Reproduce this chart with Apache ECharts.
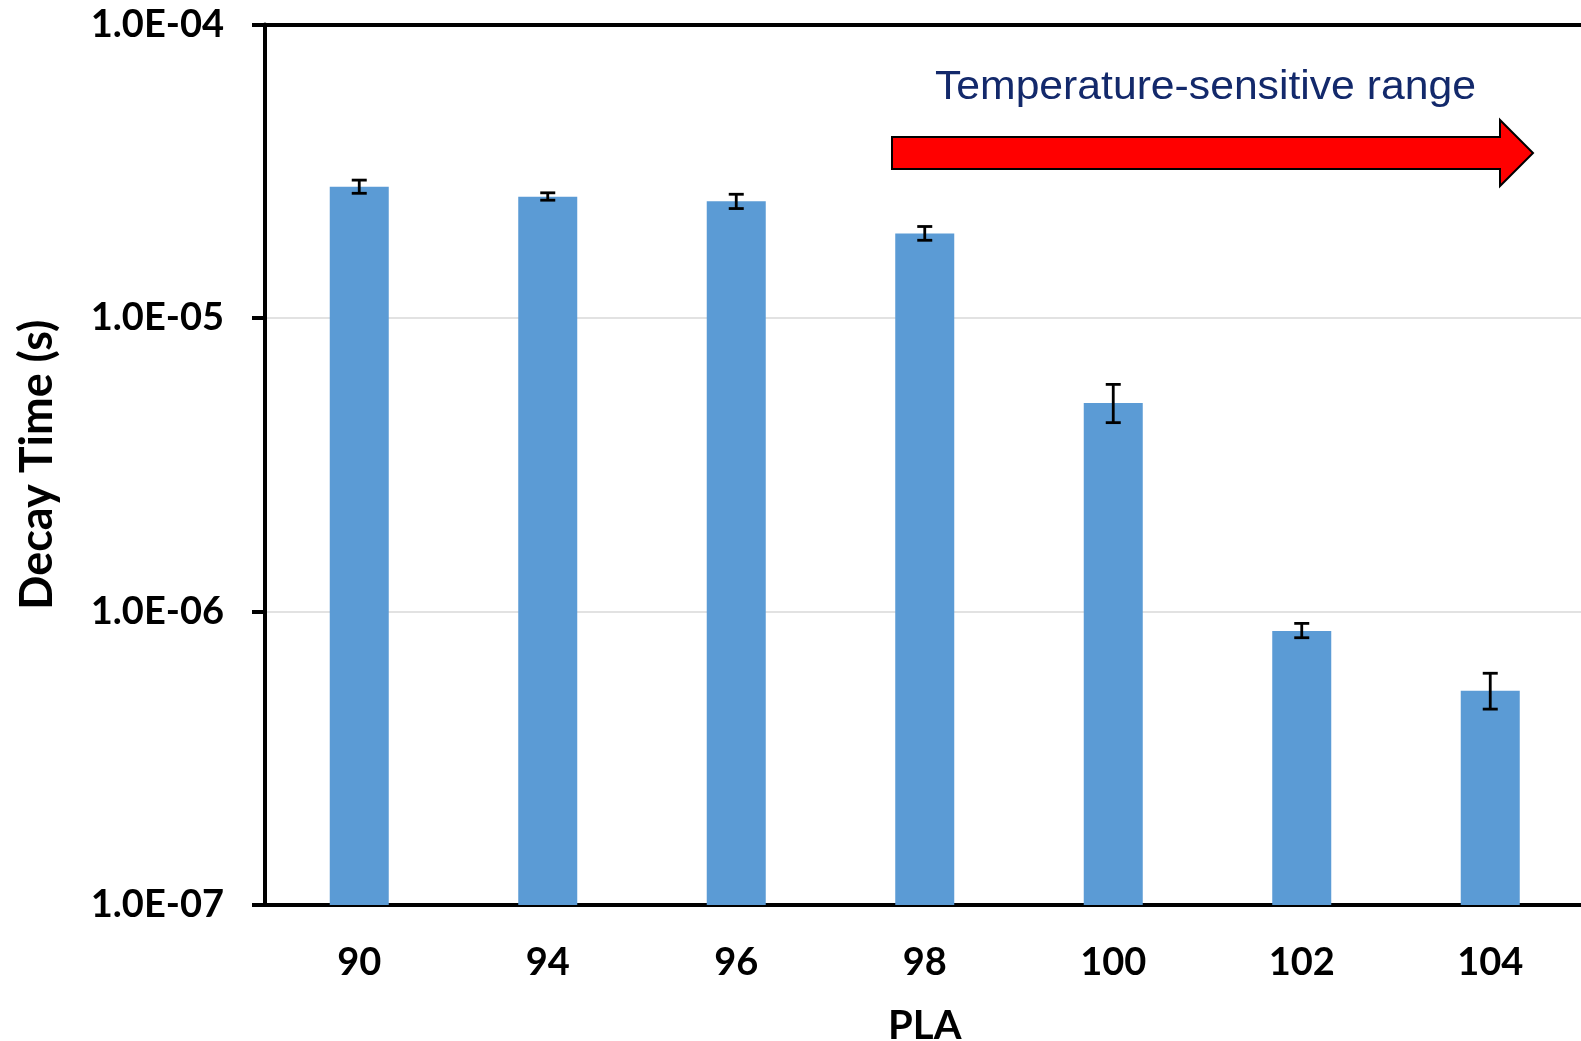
<!DOCTYPE html>
<html>
<head>
<meta charset="utf-8">
<script src="https://cdn.jsdelivr.net/npm/echarts@6/dist/echarts.min.js"></script>
<style>html,body{margin:0;padding:0;background:#fff;}#c{width:1581px;height:1041px;}</style>
</head>
<body>
<div id="c"></div>
<script>
const categories = ['90', '94', '96', '98', '100', '102', '104'];
const decayTime = [2.80e-5, 2.59e-5, 2.50e-5, 1.94e-5, 5.13e-6, 8.58e-7, 5.37e-7];
const errLow = [2.66e-5, 2.52e-5, 2.36e-5, 1.84e-5, 4.40e-6, 8.14e-7, 4.65e-7];
const errHigh = [2.95e-5, 2.67e-5, 2.64e-5, 2.05e-5, 5.94e-6, 9.11e-7, 6.16e-7];
const yTickLabels = {'-7': '1.0E-07', '-6': '1.0E-06', '-5': '1.0E-05', '-4': '1.0E-04'};
const yMin = 1e-7, yMax = 1e-4;
const annotationText = 'Temperature-sensitive range';

const chart = echarts.init(document.getElementById('c'), null, {renderer: 'canvas'});
const barData = decayTime.map((v, i) => [i, v]);
const errData = decayTime.map((v, i) => [i, errLow[i], errHigh[i]]);

const option = {
  animation: false,
  grid: {left: 265, top: 24.5, width: 1319.5, bottom: 136, containLabel: false, outerBoundsMode: 'none'},
  xAxis: [{
    type: 'category', data: categories, position: 'bottom',
    axisLine: {show: true, onZero: false, lineStyle: {color: '#000', width: 4}},
    axisTick: {show: false},
    axisLabel: {margin: 39, color: '#000', fontFamily: 'Lato', fontWeight: 'bold', fontSize: 38},
    name: 'PLA', nameLocation: 'middle', nameGap: 101,
    nameTextStyle: {color: '#000', fontFamily: 'Lato', fontWeight: 'bold', fontSize: 40}
  }, {
    type: 'category', data: categories, position: 'top',
    axisLine: {show: true, onZero: false, lineStyle: {color: '#000', width: 4}},
    axisTick: {show: false}, axisLabel: {show: false}
  }],
  yAxis: {
    type: 'log', logBase: 10, min: yMin, max: yMax,
    axisLine: {show: true, lineStyle: {color: '#000', width: 4}},
    axisTick: {show: true, inside: false, length: 13, lineStyle: {color: '#000', width: 4}},
    minorTick: {show: false},
    splitLine: {show: true, lineStyle: {color: '#d9d9d9', width: 1.5}},
    axisLabel: {
      margin: 41, color: '#000', fontFamily: 'Lato', fontWeight: 'bold', fontSize: 38,
      formatter: v => yTickLabels[String(Math.round(Math.log10(v)))] || ''
    },
    name: 'Decay Time (s)', nameLocation: 'middle', nameGap: 205,
    nameTextStyle: {color: '#000', fontFamily: 'Lato', fontWeight: 'bold', fontSize: 45}
  },
  series: [{
    type: 'custom', xAxisIndex: 0, data: barData, encode: {x: 0, y: 1},
    renderItem: (params, api) => {
      const i = api.value(0), v = api.value(1);
      const top = api.coord([i, v]);
      const base = api.coord([i, yMin]);
      const w = api.size([1, 1e-6])[0] * 0.313;
      return {type: 'rect', shape: {x: top[0] - w / 2, y: top[1], width: w, height: base[1] - top[1]},
        style: {fill: '#5B9BD5'}};
    }
  }, {
    type: 'custom', xAxisIndex: 0, data: errData, encode: {x: 0, y: [1, 2]}, z: 5,
    renderItem: (params, api) => {
      const i = api.value(0);
      const lo = api.coord([i, api.value(1)]);
      const hi = api.coord([i, api.value(2)]);
      const cw = 7.5;
      const st = {stroke: '#000', lineWidth: 2.8};
      return {type: 'group', children: [
        {type: 'line', shape: {x1: lo[0], y1: lo[1], x2: hi[0], y2: hi[1]}, style: st},
        {type: 'line', shape: {x1: lo[0] - cw, y1: lo[1], x2: lo[0] + cw, y2: lo[1]}, style: st},
        {type: 'line', shape: {x1: hi[0] - cw, y1: hi[1], x2: hi[0] + cw, y2: hi[1]}, style: st}
      ]};
    }
  }],
  graphic: [{
    type: 'text', x: 935, y: 68, scaleX: 1.067,
    style: {text: annotationText, fill: '#13296b', font: '40px "Liberation Sans", Arial, sans-serif'}
  }, {
    type: 'polygon',
    shape: {points: [[892, 137], [1500, 137], [1500, 120], [1533, 153], [1500, 186], [1500, 169], [892, 169]]},
    style: {fill: '#ff0000', stroke: '#000', lineWidth: 2}
  }]
};
chart.setOption(option);
</script>
</body>
</html>
